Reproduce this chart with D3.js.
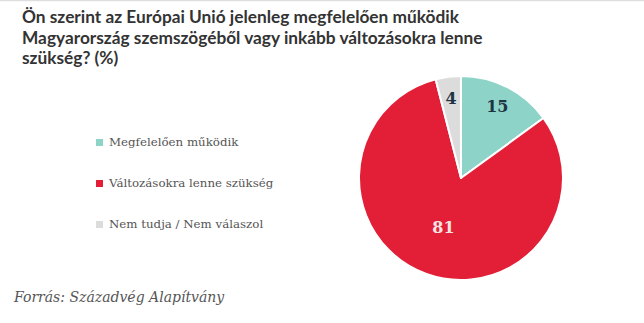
<!DOCTYPE html>
<html><head><meta charset="utf-8">
<script src="https://cdn.jsdelivr.net/npm/d3@7"></script>
<style>
html,body{margin:0;padding:0;background:#fff;}
svg{display:block;}
</style></head>
<body>
<script>
const titleLines = ["Ön szerint az Európai Unió jelenleg megfelelően működik",
  "Magyarország szemszögéből vagy inkább változásokra lenne",
  "szükség? (%)"];
const categories = ["Megfelelően működik", "Változásokra lenne szükség", "Nem tudja / Nem válaszol"];
const values = [15, 81, 4];
const colors = ["#8dd3c8", "#e21f37", "#dcdcdc"];
const labelColors = ["#1e3444", "#f3e3e3", "#1e3444"];
const source = "Forrás: Századvég Alapítvány";

const W = 644, H = 323;
const svg = d3.select("body").append("svg").attr("width", W).attr("height", H);
svg.append("rect").attr("width", W).attr("height", H).attr("fill", "#fff");
svg.append("line").attr("x1",0).attr("x2",W).attr("y1",0.5).attr("y2",0.5).attr("stroke","#dedede").attr("stroke-width",1.5);

svg.append("g").selectAll("text").data(titleLines).join("text")
  .attr("x", 22).attr("y", (d,i)=>23 + i*20.5)
  .attr("font-family", "Lato, sans-serif").attr("font-weight", 700)
  .attr("font-size", 17.3).attr("fill", "#333").text(d=>d);

const leg = svg.append("g").selectAll("g").data(categories).join("g")
  .attr("transform", (d,i)=>`translate(96,${141 + i*41})`);
leg.append("rect").attr("x",0).attr("y",-2).attr("width",7).attr("height",7).attr("fill",(d,i)=>colors[i]);
leg.append("text").attr("x",13).attr("y",5)
  .attr("font-family","'DejaVu Serif', serif").attr("font-size",11.8).attr("fill","#555").text(d=>d);

const cx = 461, cy = 178, R = 102;
const pie = d3.pie().sort(null).value(d=>d);
const arcs = pie(values);
const arc = d3.arc().innerRadius(0).outerRadius(R);
const g = svg.append("g").attr("transform", `translate(${cx},${cy})`);
g.selectAll("path").data(arcs).join("path")
  .attr("d", arc).attr("fill", (d,i)=>colors[i])
  .attr("stroke", "#fff").attr("stroke-width", 2).attr("stroke-linejoin","round");

g.selectAll("text").data(arcs).join("text")
  .attr("transform", d => {
    const lr = d.data > 50 ? 52 : 80;
    const la = d3.arc().innerRadius(lr).outerRadius(lr);
    const [x,y] = la.centroid(d);
    return `translate(${x},${y})`;
  })
  .attr("text-anchor","middle").attr("dy","0.36em")
  .attr("font-family","'DejaVu Serif', serif").attr("font-weight",700)
  .attr("font-size",16).attr("fill",(d,i)=>labelColors[i]).text(d=>d.data);

svg.append("text").attr("x",14).attr("y",302)
  .attr("font-family","'DejaVu Serif', serif").attr("font-style","italic")
  .attr("font-size",14).attr("fill","#555").text(source);
</script>
</body></html>
